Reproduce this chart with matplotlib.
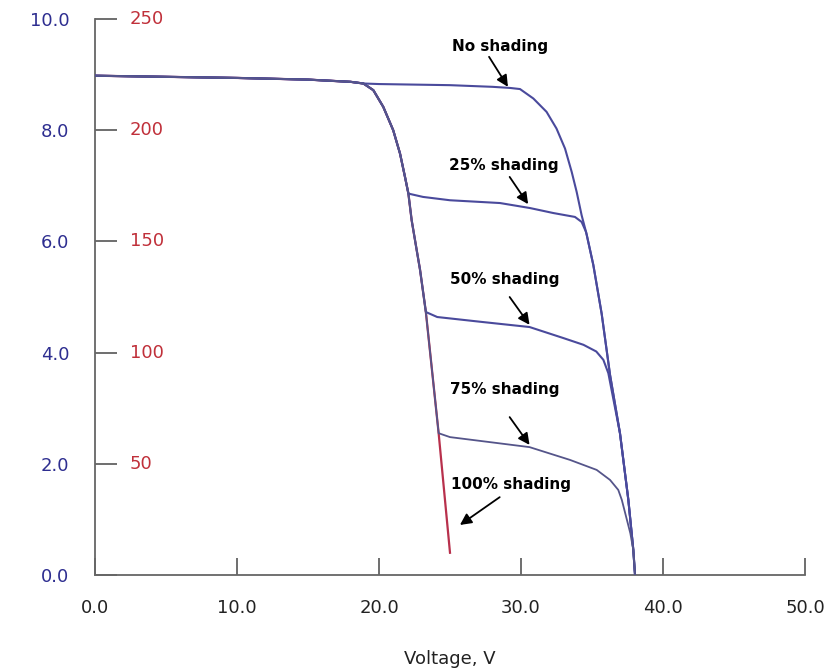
import matplotlib
matplotlib.use("Agg")
import matplotlib.pyplot as plt

# ---- data ----
v_common = [0.0, 5.0, 10.0, 15.0, 18.0, 18.9]
i_common = [8.98, 8.96, 8.94, 8.91, 8.87, 8.84]

v_left_drop = [19.6, 20.3, 21.0, 21.48, 21.83, 22.07]
i_left_drop = [8.72, 8.42, 8.0, 7.58, 7.16, 6.86]

v_left_low = [22.3, 22.65, 22.89, 23.3]
i_left_low = [6.38, 5.85, 5.49, 4.73]

v_right_drop = [35.09, 35.68, 36.27, 36.97, 37.56, 37.91, 38.03]
i_right_drop = [5.58, 4.7, 3.6, 2.55, 1.35, 0.45, 0.0]

v_none = v_common + [20.0, 25.0, 28.0, 29.23, 29.93, 30.87, 31.8, 32.5, 33.1, 33.57, 33.92, 34.27, 34.63] + v_right_drop
i_none = i_common + [8.83, 8.81, 8.78, 8.76, 8.74, 8.57, 8.33, 8.03, 7.67, 7.25, 6.89, 6.47, 6.12] + i_right_drop

v_25 = v_common + v_left_drop + [23.1, 25.0, 28.52, 30.63, 32.28, 33.8, 34.27, 34.58] + v_right_drop
i_25 = i_common + i_left_drop + [6.80, 6.74, 6.69, 6.60, 6.51, 6.44, 6.35, 6.17] + i_right_drop

v_50 = v_common + v_left_drop + v_left_low + [24.1, 27.3, 30.6, 33.0, 34.4, 35.3, 35.8, 36.15, 36.4] + v_right_drop[3:]
i_50 = i_common + i_left_drop + i_left_low + [4.64, 4.55, 4.46, 4.26, 4.14, 4.02, 3.87, 3.63, 3.3] + i_right_drop[3:]

v_75 = v_common + v_left_drop + v_left_low + [24.2, 25.0, 27.8, 30.6, 33.45, 35.33, 36.27, 36.85, 37.1, 37.4, 37.7] + v_right_drop[5:]
i_75 = i_common + i_left_drop + i_left_low + [2.55, 2.48, 2.39, 2.30, 2.07, 1.89, 1.71, 1.53, 1.35, 1.05, 0.75] + i_right_drop[5:]

v_100 = v_common + v_left_drop + v_left_low + [24.2, 25.0]
i_100 = i_common + i_left_drop + i_left_low + [2.55, 0.40]

x_ticks = [0, 10, 20, 30, 40, 50]
x_labels = ["0.0", "10.0", "20.0", "30.0", "40.0", "50.0"]
y_ticks = [0, 2, 4, 6, 8, 10]
y_labels = ["0.0", "2.0", "4.0", "6.0", "8.0", "10.0"]
power_labels = ["50", "100", "150", "200", "250"]
power_pos = [2, 4, 6, 8, 10]

labels = ["No shading", "25% shading", "50% shading", "75% shading", "100% shading"]
text_pos = [(28.52, 9.51), (28.8, 7.36), (28.87, 5.31), (28.87, 3.33), (29.3, 1.62)]
arrow_tail = [(27.75, 9.32), (29.2, 7.16), (29.2, 5.0), (29.2, 2.84), (28.5, 1.40)]
arrow_tip = [(29.08, 8.78), (30.5, 6.67), (30.6, 4.5), (30.6, 2.34), (25.7, 0.90)]

# ---- figure ----
fig = plt.figure(figsize=(8.38, 6.72), dpi=100)
ax = fig.add_axes([95/838, 1-575/672, 710/838, 556/672])

blue_line = "#4a4a9c"
red_line = "#b8304c"
ax.plot(v_100, i_100, color=red_line, lw=1.6, zorder=2)
ax.plot(v_none, i_none, color=blue_line, lw=1.5, zorder=3)
ax.plot(v_25, i_25, color=blue_line, lw=1.5, zorder=3)
ax.plot(v_50, i_50, color=blue_line, lw=1.5, zorder=3)
ax.plot(v_75, i_75, color="#55558a", lw=1.3, zorder=3)

ax.set_xlim(0, 50)
ax.set_ylim(0, 10)
for s in ["top", "right"]:
    ax.spines[s].set_visible(False)
for s in ["left", "bottom"]:
    ax.spines[s].set_color("#666666")
    ax.spines[s].set_linewidth(1.3)

ax.set_xticks(x_ticks)
ax.set_xticklabels(x_labels)
ax.set_yticks(y_ticks)
ax.set_yticklabels(y_labels)
ax.tick_params(axis="x", direction="in", length=12, width=1.2, color="#555555",
               pad=17, labelsize=13, labelcolor="#222222")
ax.tick_params(axis="y", direction="in", length=16, width=1.2, color="#555555",
               pad=18.5, labelsize=13, labelcolor="#2e2e90")

ytrans = ax.get_yaxis_transform()
for p, lab in zip(power_pos, power_labels):
    ax.text(35/710, p, lab, transform=ytrans, ha="left", va="center",
            fontsize=13, color="#c0303a")

ax.set_xlabel("Voltage, V", fontsize=13, color="#222222", labelpad=24)

for lab, tp, tail, tip in zip(labels, text_pos, arrow_tail, arrow_tip):
    ax.text(tp[0], tp[1], lab, ha="center", va="center", fontsize=11,
            fontweight="bold", color="black")
    ax.annotate("", xy=tip, xytext=tail,
                arrowprops=dict(arrowstyle="-|>", color="black", lw=1.3,
                                mutation_scale=17, shrinkA=0, shrinkB=0))

fig.savefig("out.png", dpi=100)
